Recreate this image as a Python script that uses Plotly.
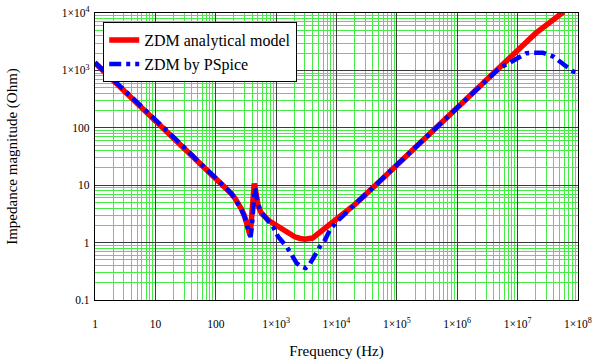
import plotly.graph_objects as go

# ZDM analytical model
freq_model = [1, 2, 5, 10, 20, 50, 100, 125, 150, 180, 208, 240, 268, 300, 324, 347, 368, 380, 392, 412, 434,
              445, 460, 475, 505, 575, 650, 745, 900, 1000, 1240, 1600, 2040, 2500, 3000,
              4000, 5000, 6440, 1e4, 2e4, 5e4, 1e5, 2e5, 5e5, 1e6, 2e6, 5e6, 1e7, 2e7, 5.8e7]
z_model = [1350, 675, 272, 138, 69, 27.5, 13.5, 10.8, 9.0, 7.2, 5.9, 4.7, 3.8, 2.9, 2.3, 1.7, 1.35, 1.8, 3.5, 7.5, 10.7,
           9.5, 7.6, 6.3, 4.3, 3.2, 2.8, 2.46, 2.15, 2.0, 1.66, 1.45, 1.26, 1.18, 1.14,
           1.2, 1.45, 1.7, 2.5, 4.6, 11.3, 22.5, 45, 112, 222, 445, 1110, 2220, 4450, 10500]

# ZDM by PSpice
freq_pspice = [1, 2, 5, 10, 20, 50, 100, 125, 150, 180, 208, 240, 268, 300, 324, 347, 365, 378, 392, 412, 430, 445,
               460, 475, 540, 650, 900, 1080, 1490, 1800, 2180, 2600, 3080, 3600, 4100, 4700, 5300,
               6440, 7800, 1e4, 2e4, 5e4, 1e5, 2e5, 5e5, 1e6, 2e6, 5e6, 7e6, 1.02e7, 1.4e7, 1.8e7,
               2.6e7, 3.9e7, 4.5e7, 5.3e7, 6.9e7, 8.3e7, 1e8]
z_pspice = [1380, 680, 272, 138, 69, 27.5, 13.5, 10.8, 9.0, 7.2, 5.8, 4.6, 3.7, 2.8, 2.2, 1.8, 1.5, 1.25, 1.7, 4.5, 8.0, 8.8,
            7.0, 5.9, 3.7, 2.8, 1.85, 1.26, 0.85, 0.62, 0.44, 0.38, 0.36, 0.42, 0.54, 0.68, 0.85,
            1.11, 1.66, 2.3, 4.5, 11.2, 22.5, 45, 112, 222, 445, 1100, 1320, 1630, 1990, 2040,
            2040, 1740, 1550, 1350, 1100, 955, 910]

x_tickvals = [1, 10, 100, 1e3, 1e4, 1e5, 1e6, 1e7, 1e8]
x_ticktext = ["1", "10", "100", "1×10<sup>3</sup>", "1×10<sup>4</sup>", "1×10<sup>5</sup>",
              "1×10<sup>6</sup>", "1×10<sup>7</sup>", "1×10<sup>8</sup>"]
y_tickvals = [0.1, 1, 10, 100, 1e3, 1e4]
y_ticktext = ["0.1", "1", "10", "100", "1×10<sup>3</sup>", "1×10<sup>4</sup>"]

FONT = "Liberation Serif"
GREEN = "rgb(70,235,70)"
MAJOR = "#3a3a3a"

fig = go.Figure()
fig.add_trace(go.Scatter(x=freq_model, y=z_model, mode="lines", name="ZDM analytical model",
                         line=dict(color="#ff0000", width=5.5)))
fig.add_trace(go.Scatter(x=freq_pspice, y=z_pspice, mode="lines", name="ZDM by PSpice",
                         line=dict(color="#0000ff", width=4.5, dash="12px,5px,4px,5px")))

axis_common = dict(type="log", showline=True, linecolor="black", linewidth=1.2, mirror=True,
                   showgrid=True, gridcolor=MAJOR, gridwidth=1.2, zeroline=False,
                   ticks="", tickfont=dict(family=FONT, size=11.5, color="black"),
                   minor=dict(showgrid=True, gridcolor=GREEN, gridwidth=1, dtick="D1"))

fig.update_xaxes(**axis_common, range=[0, 8], tickvals=x_tickvals, ticktext=x_ticktext,
                 ticklabelstandoff=13,
                 title=dict(text="Frequency (Hz)", font=dict(family=FONT, size=15, color="black"),
                            standoff=16))
fig.update_yaxes(**axis_common, range=[-1, 4], tickvals=y_tickvals, ticktext=y_ticktext,
                 ticklabelstandoff=2,
                 title=dict(text="Impedance magnitude (Ohm)",
                            font=dict(family=FONT, size=15, color="black"), standoff=40))

fig.update_layout(
    width=595, height=363,
    margin=dict(l=95, r=17, t=13, b=63, autoexpand=False),
    paper_bgcolor="white", plot_bgcolor="white",
    font=dict(family=FONT, color="black"),
    legend=dict(x=0.017, y=0.968, xanchor="left", yanchor="top",
                bgcolor="white", bordercolor="black", borderwidth=1,
                font=dict(family=FONT, size=16, color="black"),
                tracegroupgap=0, itemwidth=30),
    showlegend=True,
)

fig.write_html("out.html")
